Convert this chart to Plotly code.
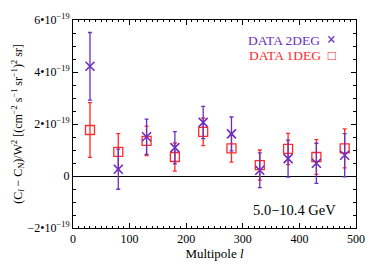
import plotly.graph_objects as go

ell = [30, 80, 130, 180, 230, 280, 330, 380, 430, 480]
# values in units of 1e-19 (cm^-2 s^-1 sr^-1)^2 sr
d2_val = [4.22, 0.26, 1.51, 1.09, 2.06, 1.62, 0.22, 0.67, 0.49, 0.80]
d2_err = [1.30, 0.77, 0.68, 0.62, 0.62, 0.65, 0.67, 0.71, 0.77, 0.83]
d1_val = [1.77, 0.93, 1.35, 0.73, 1.70, 1.06, 0.42, 1.04, 0.73, 1.06]
d1_err = [1.05, 0.70, 0.57, 0.54, 0.53, 0.53, 0.58, 0.60, 0.67, 0.75]
ytick_vals = [-2, 0, 2, 4, 6]
ytick_text = ["−2•10<sup>−19</sup>", "0", "2•10<sup>−19</sup>", "4•10<sup>−19</sup>", "6•10<sup>−19</sup>"]

purple = "#6b2fc0"
red = "#ff2a2a"
font = "Liberation Serif"

fig = go.Figure()
fig.add_trace(go.Scatter(
    x=ell, y=d1_val, mode="markers",
    marker=dict(symbol="square-open", size=9, color=red, line=dict(width=1.3, color=red)),
    error_y=dict(type="data", array=d1_err, color=red, thickness=1.3, width=2),
    showlegend=False))
fig.add_trace(go.Scatter(
    x=ell, y=d2_val, mode="markers",
    marker=dict(symbol="x-thin-open", size=9, color=purple, line=dict(width=1.6, color=purple)),
    error_y=dict(type="data", array=d2_err, color=purple, thickness=1.3, width=2),
    showlegend=False))

axis_common = dict(showline=True, linecolor="black", linewidth=1, mirror="allticks",
                   ticks="inside", ticklen=5, tickcolor="black", showgrid=False,
                   tickfont=dict(family=font, size=12, color="black"), automargin=False)
fig.update_xaxes(range=[0, 500], tickvals=[0, 100, 200, 300, 400, 500],
                 minor=dict(ticks="inside", ticklen=2, dtick=10, tickcolor="black"),
                 title=dict(text="Multipole <i>l</i>", font=dict(family=font, size=13, color="black"), standoff=2),
                 zeroline=False, **axis_common)
fig.update_yaxes(range=[-2, 6], tickvals=ytick_vals, ticktext=ytick_text,
                 minor=dict(ticks="inside", ticklen=3, dtick=0.5, tickcolor="black"),
                 title=dict(text="(C<sub><i>l</i></sub> − C<sub>N</sub>)/W<sup>2</sup> [(cm<sup>−2</sup> s<sup>−1</sup> sr<sup>−1</sup>)<sup>2</sup> sr]",
                            font=dict(family=font, size=12, color="black"), standoff=2),
                 zeroline=True, zerolinecolor="black", zerolinewidth=1.3, **axis_common)

fig.add_annotation(x=0.935, y=0.905, xref="paper", yref="paper", xanchor="right", yanchor="middle",
                   text="DATA 2DEG  <span style='font-size:16px'><b>×</b></span>", showarrow=False,
                   font=dict(family=font, size=13.5, color=purple))
fig.add_annotation(x=0.935, y=0.83, xref="paper", yref="paper", xanchor="right", yanchor="middle",
                   text="DATA 1DEG  <b>□</b>", showarrow=False, font=dict(family=font, size=13.5, color=red))
fig.add_annotation(x=0.935, y=0.085, xref="paper", yref="paper", xanchor="right", yanchor="middle",
                   text="5.0−10.4 GeV", showarrow=False, font=dict(family=font, size=14.5, color="black"))

fig.update_layout(width=366, height=259, margin=dict(l=65, r=18, t=12, b=39),
                  plot_bgcolor="white", paper_bgcolor="white",
                  font=dict(family=font, size=12, color="black"))
fig.write_html("out.html")
